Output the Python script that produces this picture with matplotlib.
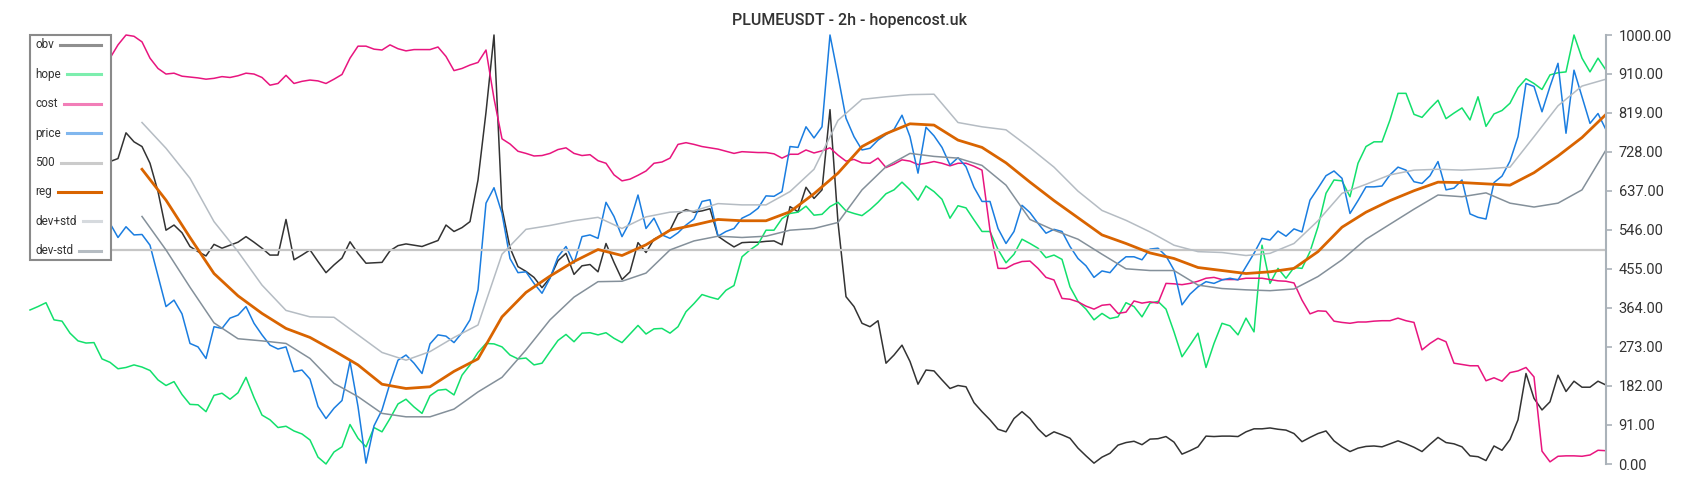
import matplotlib
matplotlib.use("Agg")
import matplotlib.pyplot as plt
from matplotlib.lines import Line2D
from matplotlib.patches import Rectangle

plt.rcParams['font.family'] = ['Roboto', 'DejaVu Sans']

title = "PLUMEUSDT - 2h - hopencost.uk"
yticks = [0, 91, 182, 273, 364, 455, 546, 637, 728, 819, 910, 1000]
level = 500  # the "500" reference line

# one value per bar (2h candles)
obv = [720, 710, 730, 700, 715, 725, 705, 720, 710, 700,
       705, 712, 772, 751, 740, 701, 635, 545, 557, 539,
       507, 495, 485, 512, 503, 510, 517, 530, 517, 503,
       487, 487, 570, 476, 487, 499, 472, 446, 464, 480,
       518, 491, 468, 469, 470, 497, 509, 513, 510, 507,
       514, 521, 557, 542, 551, 565, 662, 820, 1000, 596,
       504, 460, 449, 435, 411, 434, 474, 491, 442, 462,
       465, 448, 514, 470, 430, 448, 516, 493, 524, 534,
       545, 583, 593, 587, 590, 595, 531, 518, 506, 516,
       517, 517, 519, 520, 511, 600, 588, 645, 619, 639,
       826, 563, 390, 367, 328, 320, 334, 235, 254, 277,
       239, 186, 219, 217, 196, 176, 183, 180, 143, 122,
       103, 81, 75, 106, 122, 106, 82, 64, 75, 68,
       60, 37, 19, 2, 16, 25, 44, 50, 53, 45,
       58, 59, 64, 51, 23, 31, 40, 65, 64, 65,
       65, 64, 75, 82, 82, 84, 81, 79, 71, 52,
       62, 71, 77, 54, 40, 29, 37, 41, 42, 40,
       47, 54, 47, 39, 29, 46, 62, 50, 47, 40,
       19, 17, 8, 42, 32, 57, 103, 211, 153, 126,
       145, 207, 169, 193, 179, 179, 193, 184]

hope = [359, 367, 376, 336, 333, 305, 287, 282, 283, 245,
        237, 222, 225, 231, 226, 218, 196, 183, 192, 162,
        139, 138, 122, 160, 165, 151, 166, 202, 155, 114,
        103, 85, 88, 77, 70, 56, 16, 0, 28, 40,
        92, 60, 40, 85, 75, 106, 140, 151, 133, 118,
        159, 172, 174, 161, 207, 231, 260, 281, 280, 273,
        254, 245, 247, 231, 235, 262, 288, 302, 285, 305,
        306, 301, 306, 293, 283, 303, 323, 303, 315, 316,
        305, 320, 355, 374, 395, 389, 384, 405, 416, 483,
        499, 512, 545, 545, 572, 584, 587, 601, 580, 582,
        600, 610, 590, 584, 579, 593, 610, 630, 639, 657,
        639, 615, 648, 635, 617, 573, 602, 597, 569, 542,
        542, 500, 469, 489, 524, 514, 503, 481, 487, 477,
        413, 379, 361, 336, 351, 339, 343, 376, 367, 343,
        375, 379, 361, 308, 250, 277, 305, 225, 281, 328,
        322, 301, 340, 308, 510, 421, 456, 433, 458, 456,
        495, 553, 631, 662, 660, 623, 701, 740, 751, 751,
        802, 864, 864, 815, 808, 829, 848, 805, 818, 830,
        802, 856, 787, 816, 824, 841, 877, 898, 887, 873,
        907, 912, 914, 1000, 946, 914, 946, 918]

cost = [940, 945, 935, 940, 950, 945, 940, 948, 942, 945,
        946, 977, 1000, 997, 984, 946, 922, 909, 911, 904,
        902, 900, 897, 899, 903, 901, 905, 911, 909, 901,
        883, 887, 906, 887, 892, 895, 893, 887, 897, 908,
        946, 974, 974, 967, 965, 977, 968, 963, 966, 966,
        966, 972, 950, 917, 922, 930, 936, 965, 852, 758,
        746, 729, 724, 718, 719, 724, 733, 737, 724, 719,
        721, 707, 701, 674, 660, 664, 673, 683, 701, 704,
        713, 745, 749, 745, 740, 737, 734, 729, 724, 728,
        727, 726, 726, 723, 713, 722, 722, 732, 725, 730,
        737, 720, 706, 710, 702, 701, 713, 691, 699, 709,
        706, 698, 701, 705, 701, 695, 701, 701, 694, 685,
        545, 456, 456, 466, 472, 473, 456, 435, 429, 386,
        384, 378, 368, 361, 370, 372, 351, 354, 380, 375,
        378, 375, 421, 420, 418, 421, 426, 433, 435, 430,
        430, 430, 433, 433, 433, 430, 427, 426, 422, 382,
        350, 357, 356, 333, 330, 328, 331, 331, 333, 334,
        334, 340, 334, 330, 266, 281, 293, 285, 235, 232,
        229, 229, 194, 201, 193, 213, 217, 225, 203, 30,
        5, 18, 19, 19, 18, 21, 32, 31]

price = [570, 560, 575, 555, 545, 560, 550, 565, 555, 560,
         561, 528, 553, 534, 535, 510, 438, 367, 382, 350,
         281, 273, 246, 320, 316, 340, 347, 367, 328, 301,
         277, 268, 273, 215, 219, 198, 134, 106, 130, 148,
         239, 134, 2, 89, 126, 188, 242, 254, 235, 211,
         280, 301, 298, 283, 306, 336, 406, 608, 644, 584,
         479, 446, 448, 421, 398, 433, 483, 507, 468, 530,
         534, 526, 610, 577, 530, 565, 627, 549, 573, 534,
         526, 539, 557, 571, 612, 616, 531, 542, 549, 573,
         582, 596, 625, 624, 635, 740, 738, 786, 760, 786,
         1000, 905, 806, 763, 732, 736, 755, 768, 780, 813,
         763, 678, 785, 765, 738, 697, 714, 693, 645, 612,
         612, 549, 514, 542, 603, 586, 561, 538, 547, 542,
         507, 479, 462, 435, 450, 446, 468, 483, 483, 476,
         501, 503, 485, 452, 371, 396, 413, 425, 421, 429,
         433, 429, 460, 491, 526, 522, 543, 531, 548, 541,
         615, 643, 672, 683, 666, 584, 614, 646, 646, 648,
         674, 692, 685, 658, 654, 672, 705, 639, 643, 662,
         583, 575, 571, 656, 671, 706, 763, 887, 880, 821,
         880, 934, 771, 918, 856, 794, 817, 779]

# regression band, sampled every 3rd bar starting at bar 14
reg = [687, 615, 528, 444, 392, 351, 316, 295, 264,
       231, 186, 176, 180, 216, 245, 343, 400, 438, 472, 500, 486, 511,
       545, 557, 570, 567, 567, 588, 630, 678, 740, 770, 793, 790, 755,
       738, 702, 657, 614, 574, 534, 514, 492, 479, 458, 451, 444, 448,
       456, 495, 552, 587, 614, 637, 657, 656, 653, 650, 679, 718, 761, 815]

dev_hi = [796, 736, 666, 565, 495, 417, 358, 343, 342,
          301, 260, 242, 262, 295, 324, 489, 547, 556, 567, 575, 549, 576,
          587, 590, 607, 604, 604, 635, 687, 801, 850, 856, 861, 862, 796,
          786, 779, 737, 692, 636, 591, 568, 541, 510, 495, 493, 486, 491,
          514, 567, 631, 652, 674, 685, 687, 685, 688, 692, 763, 835, 881, 897]

dev_lo = [577, 499, 412, 329, 292, 287, 281, 246, 188,
          157, 118, 110, 110, 128, 168, 202, 266, 336, 389, 425, 426, 445,
          499, 520, 531, 528, 531, 545, 549, 563, 639, 693, 724, 717, 713,
          696, 650, 570, 545, 524, 489, 455, 451, 451, 417, 409, 406, 404,
          408, 437, 476, 524, 559, 594, 627, 623, 632, 608, 599, 608, 639, 732]

bars = list(range(len(price)))
band_bars = list(range(14, len(price), 3))

W, H = 1700, 500
fig = plt.figure(figsize=(W / 100, H / 100), dpi=100)
ax = fig.add_axes([30 / W, 36 / H, 1576 / W, 429 / H])

thin = 1.1
ax.plot(bars, obv, color='#333333', lw=thin, clip_on=False)
ax.plot(bars, hope, color='#12e06c', lw=thin, clip_on=False)
ax.plot(bars, cost, color='#e8157f', lw=thin, clip_on=False)
ax.plot(bars, price, color='#1a7de0', lw=thin, clip_on=False)
ax.axhline(level, color='#c6c6c6', lw=1.6)
ax.plot(band_bars, reg, color='#d96400', lw=2.0)
ax.plot(band_bars, dev_hi, color='#b5bcc3', lw=thin)
ax.plot(band_bars, dev_lo, color='#84909a', lw=thin)

ax.set_xlim(0, len(price) - 1)
ax.set_ylim(0, 1000)
ax.set_xticks([])
ax.yaxis.tick_right()
ax.set_yticks(yticks)
ax.set_yticklabels(["%.2f" % v for v in yticks])
ax.tick_params(axis='y', colors='#aab2b9', labelcolor='#333333',
               length=4, width=1.2, labelsize=10.5, pad=5)
for s in ['left', 'top', 'bottom']:
    ax.spines[s].set_visible(False)
ax.spines['right'].set_color('#aab2b9')
ax.spines['right'].set_linewidth(1.5)
fig.text(0.5, 1 - 21 / H, title, fontsize=11.5, fontweight='medium',
         color='#333333', ha='center', va='center')

# legend box: label first, then a line running to the right edge
entries = [("obv", '#333333', 0.55), ("hope", '#12e06c', 0.55),
           ("cost", '#e8157f', 0.55), ("price", '#1a7de0', 0.55),
           ("500", '#c6c6c6', 0.9), ("reg", '#d96400', 1.0),
           ("dev+std", '#b5bcc3', 0.55), ("dev-std", '#84909a', 0.6)]
box = Rectangle((30 / W, 240 / H), 81 / W, 225 / H, transform=fig.transFigure,
                facecolor='white', edgecolor='#8a8a8a', lw=1.5, zorder=10)
fig.add_artist(box)
renderer = fig.canvas.get_renderer()
for k, (lab, col, a) in enumerate(entries):
    ypix = 45 + 29.4 * k
    yf = 1 - ypix / H
    t = fig.text(35 / W, yf, lab, fontsize=8.5, color='#333333',
                 ha='left', va='center', zorder=11)
    x1 = t.get_window_extent(renderer).x1
    ln = Line2D([(x1 + 6) / W, 101 / W], [yf, yf], transform=fig.transFigure,
                color=col, alpha=a, lw=2.2, zorder=11)
    fig.add_artist(ln)

fig.savefig("out.png", dpi=100)
